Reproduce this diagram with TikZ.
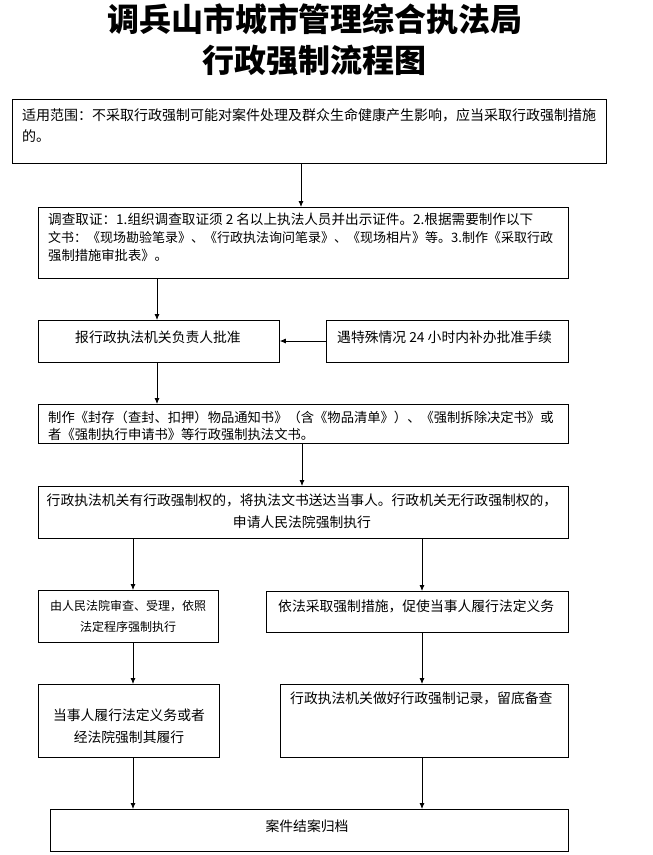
\documentclass[tikz,border=0pt]{standalone}
\usepackage{fontspec}
\newfontfamily\cjk{Noto Sans CJK SC}
\usetikzlibrary{arrows.meta}
\tikzset{
  box/.style={draw, line width=0.8pt, inner sep=0pt, anchor=north west},
  txt/.style={font=\cjk\fontsize{13.8}{18}\selectfont, inner sep=0pt, align=left},
  ctxt/.style={font=\cjk\fontsize{13.8}{22}\selectfont, inner sep=0pt, align=center},
  ttl/.style={font=\cjk\bfseries\fontsize{32}{40}\selectfont, inner sep=0pt, align=center},
  arr/.style={-{Latex[length=6pt,width=5pt]}, line width=0.8pt},
}
\begin{document}
\begin{tikzpicture}[x=1pt,y=-1pt]
\useasboundingbox (0,0) rectangle (653,855);
% title
\node[ttl] (t1) at (315,19) {调兵山市城市管理综合执法局};
\node[ttl] (t2) at (314,60) {行政强制流程图};
% boxes
\node[box, minimum width=594pt, minimum height=64pt] (b1) at (12,99) {};
\node[txt, anchor=west, font=\cjk\fontsize{14}{21}\selectfont] (x1) at (22,125.5) {适用范围：不采取行政强制可能对案件处理及群众生命健康产生影响，应当采取行政强制措施\\的。};
\node[box, minimum width=530pt, minimum height=71pt] (b2) at (38,207) {};
\node[txt, anchor=west, font=\cjk\fontsize{13.3}{18}\selectfont] (x2) at (48,237) {{\fontsize{13.6}{18}\selectfont 调查取证：1.组织调查取证须 2 名以上执法人员并出示证件。2.根据需要制作以下}\\{\fontsize{13}{18}\selectfont 文书：《现场勘验笔录》、《行政执法询问笔录》、《现场相片》等。3.制作《采取行政}\\强制措施审批表》。};
\node[box, minimum width=241pt, minimum height=42pt] (b3) at (38,320) {};
\node[txt] (x3) at (158,337) {报行政执法机关负责人批准};
\node[box, minimum width=242pt, minimum height=42pt] (b4) at (326,320) {};
\node[txt, anchor=west] (x4) at (337,337) {遇特殊情况 24 小时内补办批准手续};
\node[box, minimum width=530pt, minimum height=39pt] (b5) at (38,404) {};
\node[txt, anchor=west, font=\cjk\fontsize{13.3}{17}\selectfont] (x5) at (48,425.5) {制作《封存（查封、扣押）物品通知书》（含《物品清单》）、《强制拆除决定书》或\\者《强制执行申请书》等行政强制执法文书。};
\node[box, minimum width=530pt, minimum height=52pt] (b6) at (38,486) {};
\node[ctxt] (x6) at (302,511) {行政执法机关有行政强制权的，将执法文书送达当事人。行政机关无行政强制权的，\\申请人民法院强制执行};
\node[box, minimum width=180pt, minimum height=52pt] (b7) at (38,590) {};
\node[ctxt, font=\cjk\fontsize{12}{21}\selectfont] (x7) at (128,616.5) {由人民法院审查、受理，依照\\法定程序强制执行};
\node[box, minimum width=302pt, minimum height=41pt] (b8) at (266,591) {};
\node[txt, anchor=west] (x8) at (278,606) {依法采取强制措施，促使当事人履行法定义务};
\node[box, minimum width=181pt, minimum height=73pt] (b9) at (38,684) {};
\node[ctxt] (x9) at (129,726) {当事人履行法定义务或者\\经法院强制其履行};
\node[box, minimum width=288pt, minimum height=73pt] (b10) at (280,684) {};
\node[txt, anchor=west] (x10) at (290,698) {行政执法机关做好行政强制记录，留底备查};
\node[box, minimum width=518pt, minimum height=42pt] (b11) at (50,809) {};
\node[txt] (x11) at (307,826) {案件结案归档};
% connector x positions
\coordinate (c1) at (301,0);
\coordinate (c2) at (157,0);
\coordinate (c3) at (302,0);
\coordinate (cl) at (133,0);
\coordinate (cr) at (422,0);
\coordinate (cy) at (0,341);
% connectors
\draw[arr] (b1.south -| c1) -- (b2.north -| c1);
\draw[arr] (b2.south -| c2) -- (b3.north -| c2);
\draw[arr] (b4.west |- cy) -- (b3.east |- cy);
\draw[arr] (b3.south -| c2) -- (b5.north -| c2);
\draw[arr] (b5.south -| c3) -- (b6.north -| c3);
\draw[arr] (b6.south -| cl) -- (b7.north -| cl);
\draw[arr] (b6.south -| cr) -- (b8.north -| cr);
\draw[arr] (b7.south -| cl) -- (b9.north -| cl);
\draw[arr] (b8.south -| cr) -- (b10.north -| cr);
\draw[arr] (b9.south -| cl) -- (b11.north -| cl);
\draw[arr] (b10.south -| cr) -- (b11.north -| cr);
\end{tikzpicture}
\end{document}
